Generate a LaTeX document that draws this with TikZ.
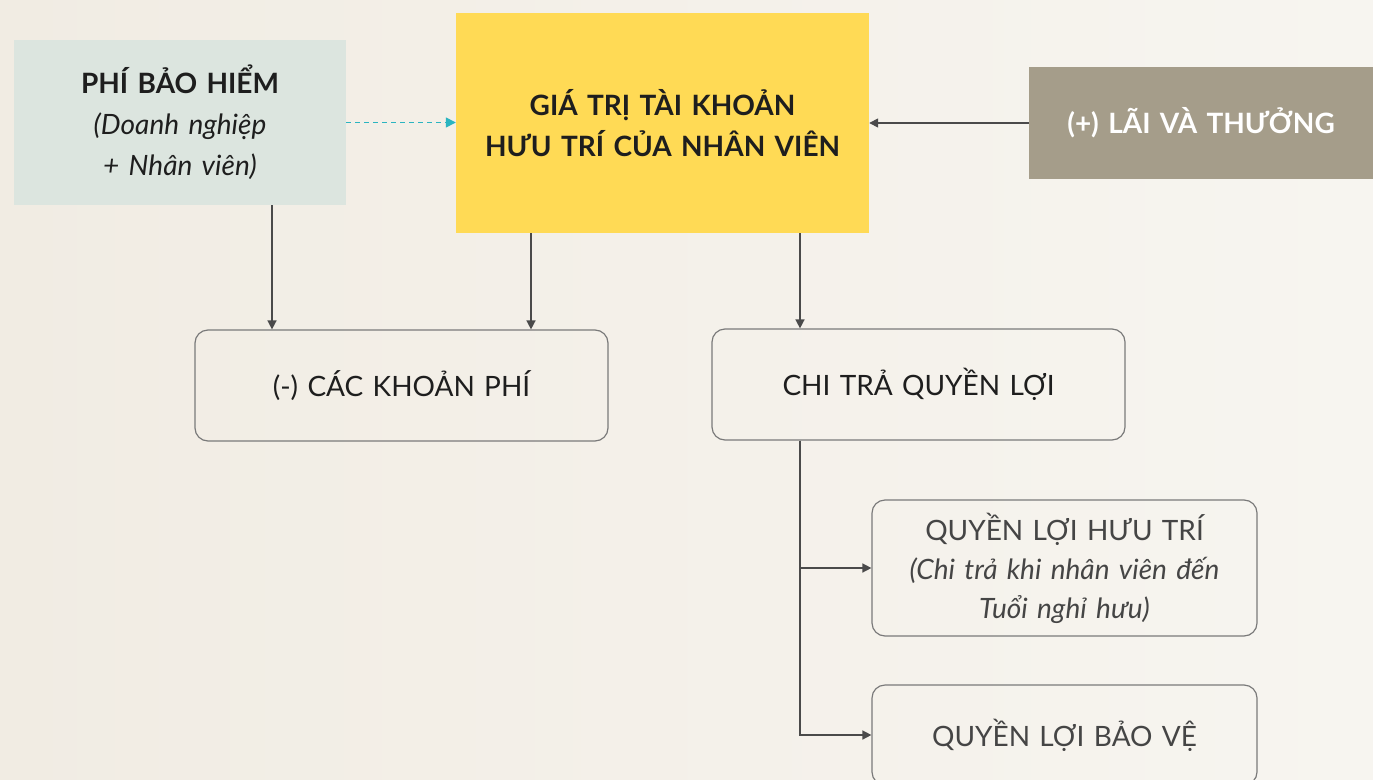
\documentclass[tikz,border=0pt]{standalone}
\usepackage{fontspec}
\setmainfont{Lato}
\usetikzlibrary{arrows.meta,calc}
\definecolor{bgA}{HTML}{F1ECE3}
\definecolor{bgB}{HTML}{F7F5F0}
\definecolor{greenbox}{HTML}{DCE5DF}
\definecolor{yellowbox}{HTML}{FFDA55}
\definecolor{taupebox}{HTML}{A59D8A}
\definecolor{teal}{HTML}{2AB4C0}
\definecolor{linegrey}{HTML}{4A4A4A}
\definecolor{boxborder}{HTML}{7A7A7A}
\definecolor{txtdark}{HTML}{1E1E1E}
\definecolor{txtgrey}{HTML}{454545}
\tikzset{
  flatbox/.style={inner sep=0pt, align=center, font=\fontsize{28}{41}\selectfont, text=txtdark},
  roundbox/.style={draw=boxborder, line width=1.2pt, rounded corners=13pt, inner sep=0pt, align=center, font=\fontsize{28}{39}\selectfont},
  arr/.style={draw=linegrey, line width=1.5pt, -{Triangle[length=9pt,width=9pt]}},
  dasharr/.style={draw=teal, line width=1.5pt, dash pattern=on 5pt off 4pt, -{Triangle[length=10pt,width=10pt]}}
}
\begin{document}
\begin{tikzpicture}[x=1pt,y=-1pt]
\shade[left color=bgA, right color=bgB] (0,0) rectangle (1373,779);
\useasboundingbox (0,0) rectangle (1373,779);
\clip (0,0) rectangle (1373,779);
\node[flatbox, fill=greenbox, minimum width=332pt, minimum height=165pt, text width=320pt] (phi) at (180,122.5)
  {\textbf{PHÍ BẢO HIỂM}\\\textit{(Doanh nghiệp}\\\textit{+ Nhân viên)}};
\node[flatbox, fill=yellowbox, minimum width=413pt, minimum height=220pt, text width=400pt] (gia) at (662.5,123)
  {\textbf{GIÁ TRỊ TÀI KHOẢN}\\\textbf{HƯU TRÍ CỦA NHÂN VIÊN}};
\node[flatbox, fill=taupebox, text=white, minimum width=344pt, minimum height=112pt, text width=330pt] (lai) at (1201,123)
  {\textbf{(+) LÃI VÀ THƯỞNG}};
\node[roundbox, text=txtdark, minimum width=413pt, minimum height=111pt, text width=400pt] (cac) at (401.5,385.5)
  {(-) CÁC KHOẢN PHÍ};
\node[roundbox, text=txtdark, minimum width=413pt, minimum height=111pt, text width=400pt] (chi) at (918.5,384.5)
  {CHI TRẢ QUYỀN LỢI};
\node[roundbox, text=txtgrey, minimum width=385pt, minimum height=136pt, text width=370pt] (huu) at (1064.5,568)
  {QUYỀN LỢI HƯU TRÍ\\\textit{(Chi trả khi nhân viên đến}\\\textit{Tuổi nghỉ hưu)}};
\node[roundbox, text=txtgrey, minimum width=385pt, minimum height=100pt, text width=370pt] (bao) at (1064.5,735)
  {QUYỀN LỢI BẢO VỆ};
\draw[dasharr] (phi.east) -- (phi.east -| gia.west);
\draw[arr] (lai.west) -- (lai.west -| gia.east);
\draw[arr] ([xshift=92pt]phi.south) -- ([xshift=92pt]phi.south |- cac.north);
\draw[arr] ([xshift=-131.5pt]gia.south) -- ([xshift=-131.5pt]gia.south |- cac.north);
\draw[arr] ([xshift=137.5pt]gia.south) -- ([xshift=137.5pt]gia.south |- chi.north);
\coordinate (branch) at ([xshift=-118.5pt]chi.south);
\draw[arr] (branch) |- (huu.west);
\draw[arr] (branch) |- (bao.west);
\end{tikzpicture}
\end{document}
